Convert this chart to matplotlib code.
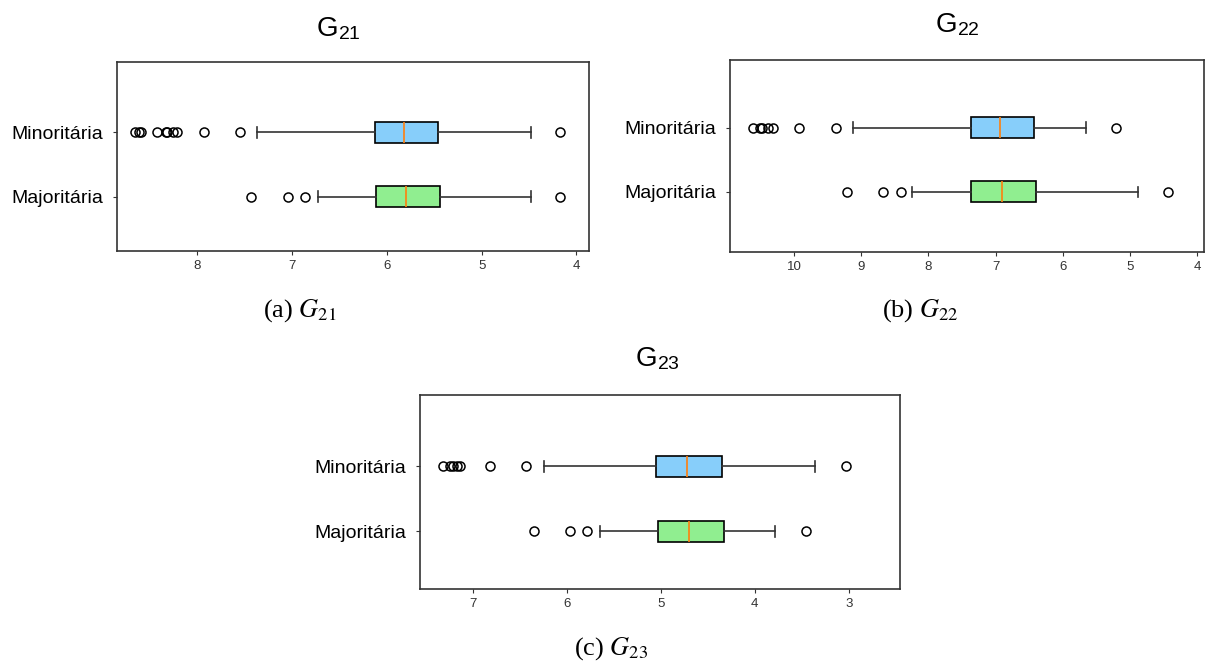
import matplotlib
matplotlib.use("Agg")
import matplotlib.pyplot as plt

plt.rcParams['font.family'] = ['Liberation Sans', 'DejaVu Sans']
plt.rcParams['mathtext.fontset'] = 'stix'

W, H = 1211, 666

labels = ['Majoritária', 'Minoritária']

# box stats: (whislo, q1, med, q3, whishi, fliers)
g21_maj = dict(whislo=4.48, q1=5.44, med=5.80, q3=6.11, whishi=6.73,
               fliers=[4.17, 6.86, 7.04, 7.43])
g21_min = dict(whislo=4.48, q1=5.46, med=5.82, q3=6.13, whishi=7.37,
               fliers=[4.17, 7.55, 7.93, 8.21, 8.26, 8.32, 8.33, 8.42, 8.59, 8.62, 8.66])

g22_maj = dict(whislo=4.88, q1=6.40, med=6.90, q3=7.36, whishi=8.24,
               fliers=[4.43, 8.41, 8.67, 9.21])
g22_min = dict(whislo=5.65, q1=6.43, med=6.93, q3=7.37, whishi=9.12,
               fliers=[5.21, 9.38, 9.93, 10.31, 10.38, 10.47, 10.50, 10.61])

g23_maj = dict(whislo=3.78, q1=4.33, med=4.70, q3=5.03, whishi=5.65,
               fliers=[3.45, 5.78, 5.96, 6.35])
g23_min = dict(whislo=3.36, q1=4.35, med=4.72, q3=5.05, whishi=6.24,
               fliers=[3.03, 6.43, 6.82, 7.13, 7.17, 7.21, 7.24, 7.32])

colors = ['lightgreen', 'lightskyblue']


def px_axes(fig, left, top, right, bottom):
    return fig.add_axes([left / W, 1 - bottom / H, (right - left) / W, (bottom - top) / H])


def draw_panel(ax, maj, mi, xlim, ylim, xticks):
    stats = []
    for lab, s in zip(labels, [maj, mi]):
        d = dict(s)
        d['label'] = lab
        stats.append(d)
    bp = ax.bxp(stats, positions=[1, 2], widths=0.33, orientation='horizontal',
                patch_artist=True, showfliers=True,
                boxprops=dict(edgecolor='black', linewidth=1.2),
                whiskerprops=dict(color='#333333', linewidth=1.2),
                capprops=dict(color='#333333', linewidth=1.2),
                medianprops=dict(color='#ff7f0e', linewidth=1.2),
                flierprops=dict(marker='o', markerfacecolor='none',
                                markeredgecolor='black', markersize=6.5,
                                markeredgewidth=1.1))
    for patch, c in zip(bp['boxes'], colors):
        patch.set_facecolor(c)
    ax.set_xlim(xlim)
    ax.set_ylim(ylim)
    ax.set_xticks(xticks)
    ax.set_xticklabels([str(t) for t in xticks])
    ax.tick_params(axis='x', labelsize=9.5, colors='#333333', labelcolor='#333333', length=3)
    ax.tick_params(axis='y', labelsize=14, length=3, pad=7, colors='#333333', labelcolor='black')
    for sp in ax.spines.values():
        sp.set_color('#333333')
        sp.set_linewidth(1.2)


fig = plt.figure(figsize=(W / 100, H / 100), dpi=100)

ax1 = px_axes(fig, 117.3, 61.7, 589, 250.7)
draw_panel(ax1, g21_maj, g21_min, (8.844, 3.868), (0.16, 3.10), [8, 7, 6, 5, 4])

ax2 = px_axes(fig, 730.3, 60, 1204, 251.7)
draw_panel(ax2, g22_maj, g22_min, (10.948, 3.899), (0.07, 3.05), [10, 9, 8, 7, 6, 5, 4])

ax3 = px_axes(fig, 420, 395, 900, 589.3)
draw_panel(ax3, g23_maj, g23_min, (7.56, 2.455), (0.11, 3.10), [7, 6, 5, 4, 3])

# titles
title_font = ['Liberation Sans', 'DejaVu Sans']
fig.text(338 / W, 1 - 29 / H, r'G$_{\mathregular{21}}$', ha='center', va='center',
         fontsize=20, family=title_font)
fig.text(957 / W, 1 - 25 / H, r'G$_{\mathregular{22}}$', ha='center', va='center',
         fontsize=20, family=title_font)
fig.text(657 / W, 1 - 359 / H, r'G$_{\mathregular{23}}$', ha='center', va='center',
         fontsize=20, family=title_font)

# captions
cap_font = ['Liberation Serif', 'DejaVu Serif']
fig.text(300 / W, 1 - 311 / H, r'(a) $G_{21}$', ha='center', va='center',
         fontsize=19, family=cap_font)
fig.text(920 / W, 1 - 311 / H, r'(b) $G_{22}$', ha='center', va='center',
         fontsize=19, family=cap_font)
fig.text(611 / W, 1 - 649 / H, r'(c) $G_{23}$', ha='center', va='center',
         fontsize=19, family=cap_font)

fig.savefig('out.png', dpi=100)
